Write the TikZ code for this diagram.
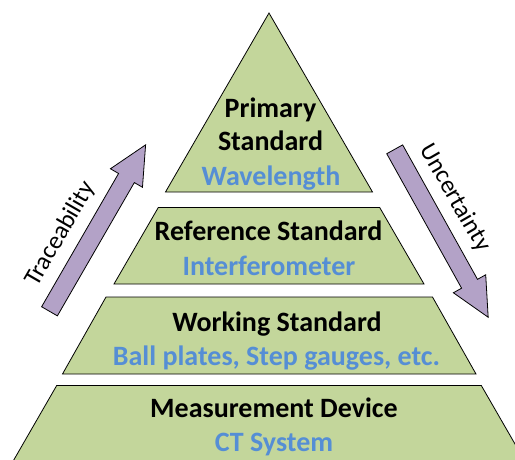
\documentclass[tikz,border=0pt]{standalone}
\usepackage{fontspec}
\setmainfont{Carlito}
\begin{document}
\begin{tikzpicture}[x=1pt,y=-1pt,
  tier/.style={fill=tiergreen,draw=black,line width=0.8pt,line join=miter},
  flow/.style={fill=flowpurple,draw=black,line width=0.8pt,line join=miter},
  title/.style={anchor=base,font=\fontsize{28}{30}\selectfont\bfseries,text=black,inner sep=0pt},
  example/.style={anchor=base,font=\fontsize{28}{30}\selectfont\bfseries,text=exblue,inner sep=0pt},
  flowlabel/.style={font=\fontsize{25}{27}\selectfont,text=black,inner sep=0pt}]
\definecolor{tiergreen}{HTML}{C3D69B}
\definecolor{flowpurple}{HTML}{B3A2C7}
\definecolor{exblue}{HTML}{558ED5}
\useasboundingbox (0,0) rectangle (515,459);

% pyramid tiers
\draw[tier] (269,13) -- (372.5,192) -- (165.5,192) -- cycle;
\draw[tier] (158.3,207.5) -- (379.7,207.5) -- (424,284) -- (114,284) -- cycle;
\draw[tier] (106,297) -- (432.5,297) -- (476,374) -- (62.5,374) -- cycle;
\begin{scope}
  \clip (0,0) rectangle (515,459);
  \draw[tier] (56.7,385.5) -- (481.3,385.5) -- (530,470) -- (8,470) -- cycle;
\end{scope}

% tier labels
\node[title]   (prim1) at (270.5,117.3) {Primary};
\node[title]   (prim2) at (270.5,150.7) {Standard};
\node[example] (primx) at (271,185)   {Wavelength};
\node[title]   (ref)   at (268.5,240)   {Reference Standard};
\node[example] (refx)  at (269,275)   {Interferometer};
\node[title]   (work)  at (277,331.7) {Working Standard};
\node[example] (workx) at (276.5,365.7) {Ball plates, Step gauges, etc.};
\node[title]   (meas)  at (274,417.3) {Measurement Device};
\node[example] (measx) at (274,451.7) {CT System};

% traceability arrow (pointing up)
\begin{scope}[shift={(49.5,311.3)},rotate=60]
  \draw[flow] (0,-9.1) -- (153.9,-9.1) -- (153.9,-18.5) -- (192.2,0)
    -- (153.9,18.5) -- (153.9,9.1) -- (0,9.1) -- cycle;
\end{scope}
\node[flowlabel,rotate=60] (trace) at (60.5,234) {Traceability};

% uncertainty arrow (pointing down)
\begin{scope}[shift={(394.7,149.3)},rotate=-60.9]
  \draw[flow] (0,-9.1) -- (153.9,-9.1) -- (153.9,-18.5) -- (192.2,0)
    -- (153.9,18.5) -- (153.9,9.1) -- (0,9.1) -- cycle;
\end{scope}
\node[flowlabel,rotate=-60] (uncert) at (455,198) {Uncertainty};
\end{tikzpicture}
\end{document}
